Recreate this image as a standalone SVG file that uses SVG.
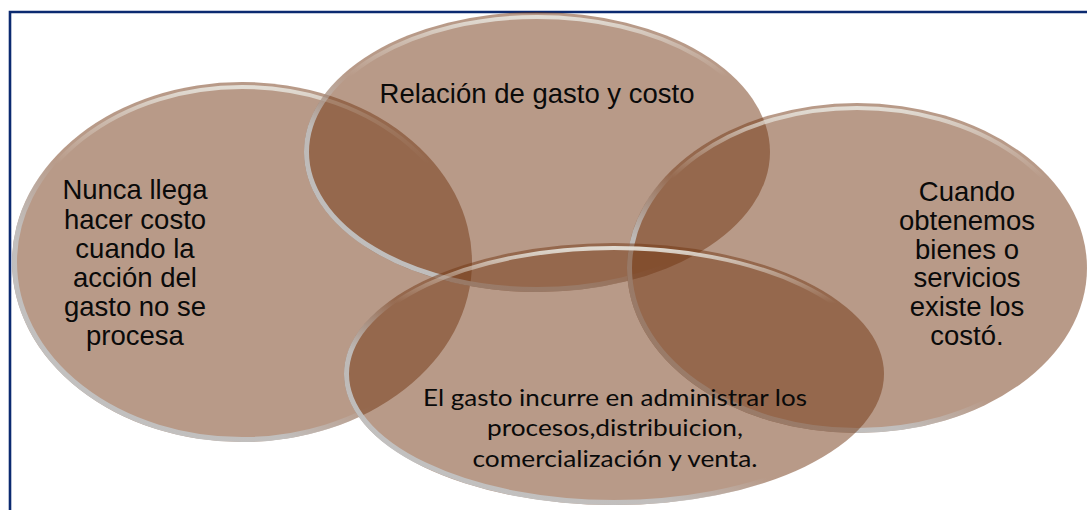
<svg xmlns="http://www.w3.org/2000/svg" width="1087" height="510" viewBox="0 0 1087 510">
<defs>
<linearGradient id="hi" x1="0" y1="0" x2="0" y2="1">
<stop offset="0" stop-color="#e4e0d8" stop-opacity="0.95"/>
<stop offset="0.1" stop-color="#e4e0d8" stop-opacity="0.45"/>
<stop offset="0.22" stop-color="#e4e0d8" stop-opacity="0"/>
<stop offset="1" stop-color="#e4e0d8" stop-opacity="0"/>
</linearGradient>
<linearGradient id="sh" x1="1" y1="0" x2="0" y2="1">
<stop offset="0" stop-color="#c2c2c2" stop-opacity="0"/>
<stop offset="0.56" stop-color="#c2c2c2" stop-opacity="0"/>
<stop offset="0.7" stop-color="#c2c2c2" stop-opacity="0.9"/>
<stop offset="1" stop-color="#c2c2c2" stop-opacity="1"/>
</linearGradient>
<style>
.disc{fill:#713511;fill-opacity:0.5}
.hi{fill:none;stroke:url(#hi);stroke-width:4}
.sh{fill:none;stroke:url(#sh);stroke-width:5}
.frame{fill:none;stroke:#0b2a70;stroke-width:2.6}
.a{font-family:"Liberation Sans",Arial,sans-serif;font-size:27.5px;fill:#0a0a0a;text-anchor:middle}
.c{font-family:Lato,"Open Sans",sans-serif;font-size:24px;fill:#0a0a0a;text-anchor:middle}
</style>
</defs>
<rect width="1087" height="510" fill="#ffffff"/>
<path class="frame" d="M10,520 V12 H1090"/>
<g id="node-left">
<ellipse class="disc" cx="242" cy="262" rx="230" ry="180"/>
<ellipse class="sh" cx="242" cy="262" rx="227.5" ry="177.5"/>
<ellipse class="hi" cx="242" cy="262" rx="225" ry="175"/>
<text class="a"><tspan x="135" y="199">Nunca llega</tspan><tspan x="135" y="228.5">hacer costo</tspan><tspan x="135" y="258">cuando la</tspan><tspan x="135" y="287">acción del</tspan><tspan x="135" y="316">gasto no se</tspan><tspan x="135" y="345">procesa</tspan></text>
</g>
<g id="node-top">
<ellipse class="disc" cx="537" cy="152" rx="233" ry="140"/>
<ellipse class="sh" cx="537" cy="152" rx="230.5" ry="137.5"/>
<ellipse class="hi" cx="537" cy="152" rx="228" ry="135"/>
<text class="a" x="537" y="103">Relación de gasto y costo</text>
</g>
<g id="node-right">
<ellipse class="disc" cx="857" cy="268" rx="230" ry="165"/>
<ellipse class="sh" cx="857" cy="268" rx="227.5" ry="162.5"/>
<ellipse class="hi" cx="857" cy="268" rx="225" ry="160"/>
<text class="a"><tspan x="967" y="200.5">Cuando</tspan><tspan x="967" y="229.5">obtenemos</tspan><tspan x="967" y="258.5">bienes o</tspan><tspan x="967" y="287">servicios</tspan><tspan x="967" y="316">existe los</tspan><tspan x="967" y="345">costó.</tspan></text>
</g>
<g id="node-bottom">
<ellipse class="disc" cx="614" cy="374" rx="270" ry="131"/>
<ellipse class="sh" cx="614" cy="374" rx="267.5" ry="128.5"/>
<ellipse class="hi" cx="614" cy="374" rx="265" ry="126"/>
<text class="c"><tspan x="615" y="405.5" textLength="384" lengthAdjust="spacingAndGlyphs">El gasto incurre en administrar los</tspan><tspan x="615" y="435.5" textLength="256" lengthAdjust="spacingAndGlyphs">procesos,distribuicion,</tspan><tspan x="615" y="466.5" textLength="285" lengthAdjust="spacingAndGlyphs">comercialización y venta.</tspan></text>
</g>
<g id="connectors"></g>
</svg>
